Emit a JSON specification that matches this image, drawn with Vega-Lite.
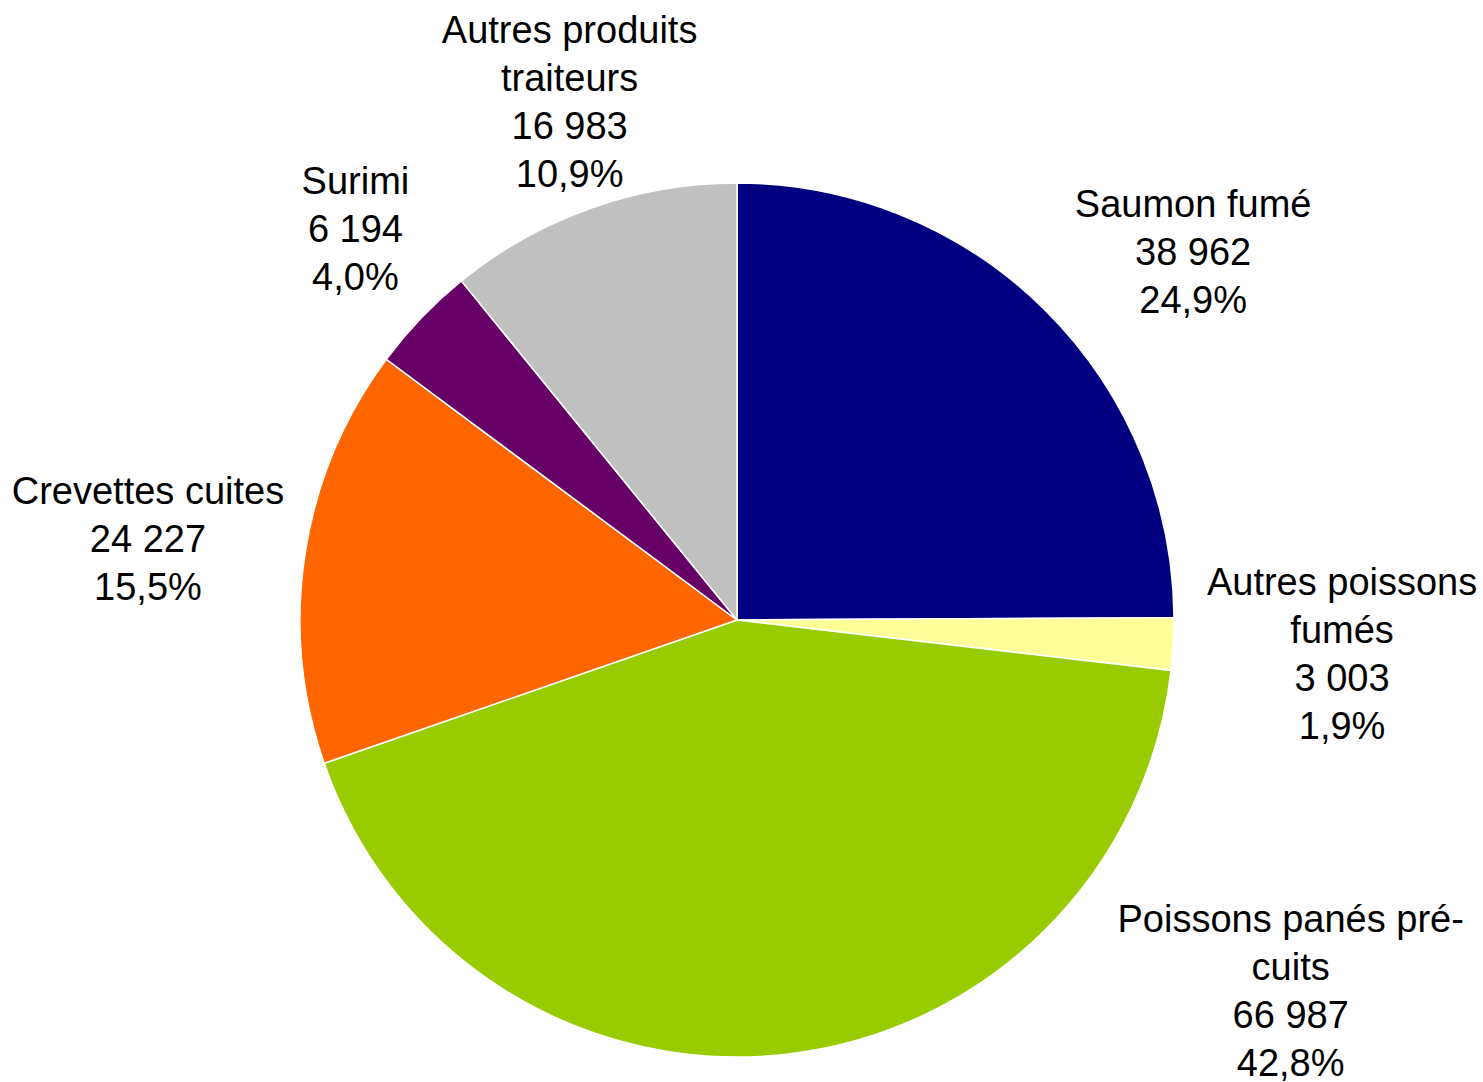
{
  "$schema": "https://vega.github.io/schema/vega-lite/v6.json",
  "autosize": {"type": "none"},
  "width": 1474,
  "height": 924,
  "padding": {"left": 0, "top": 158, "right": 9, "bottom": 0},
  "background": "white",
  "config": {
    "view": {"stroke": null},
    "text": {"font": "Liberation Sans", "fontSize": 38, "lineHeight": 48, "lineBreak": "|", "align": "center", "baseline": "middle", "color": "black"}
  },
  "data": {
    "values": [
      {"name": "Saumon fumé", "label": "Saumon fumé", "value": 38962, "order": 1},
      {"name": "Autres poissons fumés", "label": "Autres poissons|fumés", "value": 3003, "order": 2},
      {"name": "Poissons panés pré-cuits", "label": "Poissons panés pré-|cuits", "value": 66987, "order": 3},
      {"name": "Crevettes cuites", "label": "Crevettes cuites", "value": 24227, "order": 4},
      {"name": "Surimi", "label": "Surimi", "value": 6194, "order": 5},
      {"name": "Autres produits traiteurs", "label": "Autres produits|traiteurs", "value": 16983, "order": 6}
    ]
  },
  "transform": [
    {"joinaggregate": [{"op": "sum", "field": "value", "as": "total"}]},
    {"stack": "value", "groupby": [], "sort": [{"field": "order", "order": "ascending"}], "as": ["v0", "v1"]},
    {"calculate": "(datum.v0 + datum.v1) / 2", "as": "vmid"},
    {"calculate": "datum.label + '|' + replace(format(datum.value, ','), ',', ' ') + '|' + replace(format(datum.value / datum.total, '.1%'), '.', ',')", "as": "txt"}
  ],
  "layer": [
    {
      "mark": {"type": "arc", "radius": 437, "stroke": "white", "strokeWidth": 1.5},
      "encoding": {
        "theta": {"field": "v0", "type": "quantitative", "scale": {"domain": [0, 156356], "zero": true, "nice": false}},
        "theta2": {"field": "v1"},
        "color": {
          "field": "name",
          "type": "nominal",
          "legend": null,
          "scale": {
            "domain": ["Saumon fumé", "Autres poissons fumés", "Poissons panés pré-cuits", "Crevettes cuites", "Surimi", "Autres produits traiteurs"],
            "range": ["#000080", "#FFFF99", "#99CC00", "#FF6600", "#660066", "#C0C0C0"]
          }
        }
      }
    },
    {
      "transform": [{"filter": "datum.name == 'Saumon fumé'"}],
      "mark": {"type": "text", "radius": 590, "dx": 40, "dy": 4},
      "encoding": {"theta": {"field": "vmid", "type": "quantitative"}, "text": {"field": "txt"}}
    },
    {
      "transform": [{"filter": "datum.name == 'Autres poissons fumés'"}],
      "mark": {"type": "text", "radius": 600, "dx": 6, "dy": -69},
      "encoding": {"theta": {"field": "vmid", "type": "quantitative"}, "text": {"field": "txt"}}
    },
    {
      "transform": [{"filter": "datum.name == 'Poissons panés pré-cuits'"}],
      "mark": {"type": "text", "radius": 437, "dx": 506, "dy": -133},
      "encoding": {"theta": {"field": "vmid", "type": "quantitative"}, "text": {"field": "txt"}}
    },
    {
      "transform": [{"filter": "datum.name == 'Crevettes cuites'"}],
      "mark": {"type": "text", "radius": 600, "dx": 4, "dy": -36},
      "encoding": {"theta": {"field": "vmid", "type": "quantitative"}, "text": {"field": "txt"}}
    },
    {
      "transform": [{"filter": "datum.name == 'Surimi'"}],
      "mark": {"type": "text", "radius": 545, "dx": 12, "dy": -60},
      "encoding": {"theta": {"field": "vmid", "type": "quantitative"}, "text": {"field": "txt"}}
    },
    {
      "transform": [{"filter": "datum.name == 'Autres produits traiteurs'"}],
      "mark": {"type": "text", "radius": 545, "dx": 15, "dy": -74},
      "encoding": {"theta": {"field": "vmid", "type": "quantitative"}, "text": {"field": "txt"}}
    }
  ]
}
